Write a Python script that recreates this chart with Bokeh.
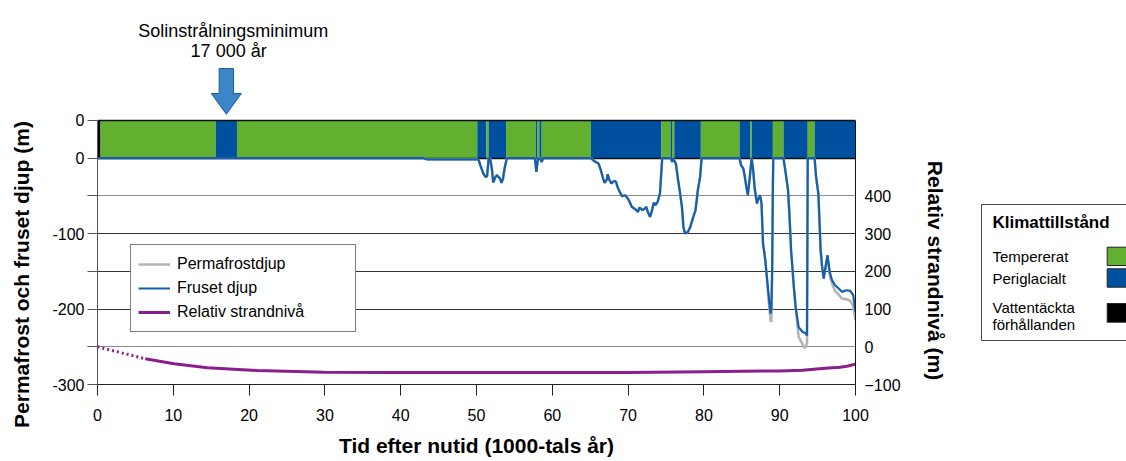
import numpy as np
from bokeh.plotting import figure
from bokeh.models import Range1d, LinearAxis, FixedTicker, Label, Legend, LegendItem
from bokeh.layouts import row
from bokeh.embed import file_html
from bokeh.resources import INLINE

FONT = "Liberation Sans"

# ---------------- data ----------------
# Climate state bar (time in 1000 years after present)
bar_start = [0.0, 0.4, 15.6, 18.4, 50.1, 51.3, 51.6, 53.9, 57.8, 58.0, 58.3, 58.6, 65.1,
             74.4, 75.6, 75.8, 76.1, 79.6, 84.7, 86.1, 86.3, 89.1, 90.5, 93.7, 94.6]
bar_end = bar_start[1:] + [100.0]
bar_state = ["Vattentäckta förhållanden"] + ["Tempererat", "Periglacialt"] * 12

state_names = ["Tempererat", "Periglacialt", "Vattentäckta förhållanden"]
state_colors = {"Tempererat": "#62b030", "Periglacialt": "#0050a0",
                "Vattentäckta förhållanden": "#000000"}

# Frozen depth / permafrost depth (m)
frost_t = [0, 43, 43.5, 50.1, 50.3, 50.5, 50.9, 51.2, 51.4, 51.6, 51.8, 52.05, 52.2, 52.5, 52.7,
           53.1, 53.3, 53.5, 53.7, 54.0,
           57.7, 57.9, 58.1, 58.4, 58.6, 58.8,
           65.1, 65.4, 65.7, 66.1, 66.4, 66.7, 66.9, 67.2, 67.3, 67.5, 67.8, 68.0, 68.2, 68.4,
           68.6, 68.9, 69.2, 69.6, 69.8, 70.1, 70.5, 71.0, 71.3, 71.5, 71.9, 72.2, 72.4, 72.6,
           72.9, 73.1, 73.4, 73.6, 73.9, 74.2, 74.4, 74.5,
           75.7, 75.8, 75.9, 76.3, 76.6, 76.8, 77.1, 77.3, 77.5, 77.9, 78.2, 78.6, 78.9, 79.2,
           79.5, 79.7,
           84.7, 84.9, 85.2, 85.4, 85.6, 85.8, 86.1, 86.3, 86.5, 86.7, 87.0, 87.1, 87.4, 87.6,
           87.8, 88.1, 88.6, 88.8, 88.9, 89.0, 89.1, 89.15,
           90.5, 90.8, 91.1, 91.3, 91.5, 91.6, 91.9, 92.1, 92.5, 93.0, 93.2, 93.4, 93.6, 93.65, 93.7,
           94.6, 94.8, 95.1, 95.4, 95.6, 95.8, 96.3, 96.6, 96.9, 97.3, 97.8, 98.2, 98.8, 99.3,
           99.7, 100]
frost_depth = [0, 0, -1.5, -1.5, -2.7, -9.3, -20.3, -24.8, -23.9, 0, 0, -15.9, -32.2, -24.8, -22.5,
               -26.9, -32.7, -26.9, -13.7, 0,
               0, -18.1, 0, -1, -4.9, 0,
               0, -2.7, -4.9, -7.0, -15.9, -26.9, -32.7, -28.2, -21.2, -28.2, -33.5, -31.4, -30.1, -31.4,
               -38.0, -44.7, -50.4, -49.1, -51.3, -55.7, -64.6, -68.0, -71.2, -65.4, -68.9, -66.7, -64.6, -71.2,
               -77.8, -71.2, -58.7, -62.3, -57.9, -46.8, -15.9, 0,
               0, -4.9, 0, -7.0, -29.2, -42.4, -64.6, -91.1, -99.8, -97.7, -91.1, -77.8, -68.9, -42.4,
               -24.8, 0,
               0, -9.3, -13.7, -24.8, -38.0, -49.1, -20.3, 0, -15.9, -40.2, -60.1, -55.7, -49.1, -60.1,
               -113, -135, -188, -206, -200, -150, -40, 0,
               0, -20.3, -42.4, -77.8, -122, -135, -175, -197, -224, -230, -231, -232, -235, -120, 0,
               0, -24.8, -46.8, -122, -144, -159.5, -128.6, -150.7, -161.7, -168.4, -172.8, -177.2, -175, -175.9,
               -181.6, -203.8]
perma_depth = [0, 0, -1.5, -1.5, -2.7, -9.3, -20.3, -24.8, -23.9, 0, 0, -15.9, -32.2, -24.8, -22.5,
               -26.9, -32.7, -26.9, -13.7, 0,
               0, -18.1, 0, -1, -4.9, 0,
               0, -2.7, -4.9, -7.0, -15.9, -26.9, -32.7, -28.2, -21.2, -28.2, -33.5, -31.4, -30.1, -31.4,
               -38.0, -44.7, -50.4, -49.1, -51.3, -55.7, -64.6, -68.0, -71.2, -65.4, -68.9, -66.7, -64.6, -71.2,
               -77.8, -71.2, -58.7, -62.3, -57.9, -46.8, -15.9, 0,
               0, -4.9, 0, -7.0, -29.2, -42.4, -64.6, -91.1, -99.8, -97.7, -91.1, -77.8, -68.9, -42.4,
               -24.8, 0,
               0, -9.3, -13.7, -24.8, -38.0, -49.1, -20.3, 0, -15.9, -40.2, -60.1, -55.7, -49.1, -60.1,
               -113, -135, -195, -215, -217, -160, -40, 0,
               0, -20.3, -42.4, -77.8, -122, -135, -175, -197, -237, -246, -251, -251, -245, -125, 0,
               0, -24.8, -46.8, -122, -144, -159.5, -130, -155, -166, -176, -181, -186, -187, -189,
               -196, -215]

# Relative shore level (m, right axis)
shore_t = [0, 3.3, 6.3, 10.1, 14.5, 21.1, 29.9, 38.7, 50, 60, 70, 80, 85, 90, 93, 96, 98, 99, 100]
shore_level = [0, -16.7, -31.6, -45, -55.6, -62.8, -67.3, -68, -68, -68, -68, -66, -65, -64, -62,
               -57, -54, -51, -46]
shore_dotted_n = 3  # first points (uncertain part) drawn dotted

insolation_min_t = 17  # 1000 years

x_ticks = list(range(0, 101, 10))
left_ticks = [-300, -250, -200, -150, -100, -50, 0, 50]
left_labels = {50: "0", 0: "0", -50: "", -100: "-100", -150: "", -200: "-200", -250: "", -300: "-300"}
right_ticks = [-100, 0, 100, 200, 300, 400]

H = 461

# ---------------- left title figure ----------------
pL = figure(width=40, height=H, x_range=Range1d(0, 40), y_range=Range1d(H, 0),
            output_backend="svg", toolbar_location=None, min_border=0, frame_align=False,
            x_axis_type=None, y_axis_type=None, outline_line_color=None,
            background_fill_color="white", border_fill_color="white")
pL.grid.visible = False
pL.add_layout(Label(x=21, y=274, text="Permafrost och fruset djup (m)", angle=np.pi / 2,
                    text_align="center", text_baseline="middle", text_font=FONT,
                    text_font_size="21px", text_font_style="bold", text_color="black"))

# ---------------- main figure ----------------
p = figure(width=880, height=H, x_range=Range1d(0, 100), y_range=Range1d(-300, 209.09),
           output_backend="svg", toolbar_location=None, frame_align=False,
           min_border_left=57, min_border_right=65, min_border_top=0, min_border_bottom=77,
           outline_line_color=None, background_fill_color="white", border_fill_color="white")
p.xgrid.visible = False
p.ygrid.visible = False
p.extra_y_ranges = {"r": Range1d(-100, 918.18)}

# grid lines
p.hspan(y=[-50, -250], line_color="#8c8c8c", line_width=1.2)
p.hspan(y=[-100, -150, -200], line_color="#333333", line_width=1.2)

# climate bar
p.quad(left=bar_start, right=bar_end, bottom=0, top=50,
       fill_color=[state_colors[s] for s in bar_state], line_color=None)
p.hspan(y=[0], line_color="#111111", line_width=1.5)
p.hspan(y=[50], line_color="#111111", line_width=1.5)

# depth curves
r_perma = p.line(frost_t, perma_depth, line_color="#b4b4b4", line_width=2.6)
r_frost = p.line(frost_t, frost_depth, line_color="#1560aa", line_width=2.2)

# shore level
purple = "#8a1e8c"
p.line(shore_t[:shore_dotted_n], shore_level[:shore_dotted_n], y_range_name="r",
       line_color=purple, line_width=3, line_dash="2 3")
r_shore = p.line(shore_t[shore_dotted_n - 1:], shore_level[shore_dotted_n - 1:], y_range_name="r",
                 line_color=purple, line_width=3)

# arrow marking insolation minimum
ax = insolation_min_t
p.patch(x=[ax - 0.95, ax + 0.95, ax + 0.95, ax + 1.98, ax, ax - 1.98, ax - 0.95],
        y=[118.9, 118.9, 85.8, 85.8, 58.3, 85.8, 85.8],
        fill_color="#3a86c8", line_color="#1f5d93", line_width=1)
p.add_layout(Label(x=17.9, y=169.3, text="Solinstrålningsminimum", text_align="center",
                   text_baseline="middle", text_font=FONT, text_font_size="18px", text_color="black"))
p.add_layout(Label(x=17.3, y=141.5, text="17 000 år", text_align="center",
                   text_baseline="middle", text_font=FONT, text_font_size="18px", text_color="black"))

# axes
xa = p.xaxis[0]
xa.ticker = FixedTicker(ticks=x_ticks)
xa.major_tick_out = 11
xa.major_tick_in = 0
xa.minor_tick_line_color = None
xa.axis_line_color = "#222222"
xa.major_tick_line_color = "#222222"
xa.major_label_standoff = 13
xa.major_label_text_font = FONT
xa.major_label_text_font_size = "16px"
xa.major_label_text_color = "black"
xa.axis_label = "Tid efter nutid (1000-tals år)"
xa.axis_label_text_font = FONT
xa.axis_label_text_font_size = "21px"
xa.axis_label_text_font_style = "bold"
xa.axis_label_text_color = "black"
xa.axis_label_standoff = 10

ya = p.yaxis[0]
ya.ticker = FixedTicker(ticks=left_ticks)
ya.major_label_overrides = left_labels
ya.bounds = (-300, 50)
ya.major_tick_out = 10
ya.major_tick_in = 0
ya.minor_tick_line_color = None
ya.axis_line_color = "#555555"
ya.major_tick_line_color = "#555555"
ya.major_label_standoff = 3
ya.major_label_text_font = FONT
ya.major_label_text_font_size = "16px"
ya.major_label_text_color = "black"

ra = LinearAxis(y_range_name="r", ticker=FixedTicker(ticks=right_ticks), bounds=(-100, 600),
                major_tick_out=0, major_tick_in=0, minor_tick_line_color=None,
                axis_line_color="#111111", major_label_standoff=9,
                major_label_text_font=FONT, major_label_text_font_size="16px",
                major_label_text_color="black")
p.add_layout(ra, "right")

legend = Legend(items=[LegendItem(label="Permafrostdjup", renderers=[r_perma]),
                       LegendItem(label="Fruset djup", renderers=[r_frost]),
                       LegendItem(label="Relativ strandnivå", renderers=[r_shore])],
                location=(33, 52), margin=0, padding=7, spacing=0,
                glyph_width=32, glyph_height=24, label_height=24, label_width=171,
                label_standoff=7, label_text_font=FONT, label_text_font_size="16px",
                label_text_color="black", border_line_color="black", border_line_width=1,
                background_fill_color="white", background_fill_alpha=1.0)
p.add_layout(legend)

# ---------------- right title + climate legend figure ----------------
pR = figure(width=206, height=H, x_range=Range1d(0, 206), y_range=Range1d(H, 0),
            output_backend="svg", toolbar_location=None, min_border=0, frame_align=False,
            x_axis_type=None, y_axis_type=None, outline_line_color=None,
            background_fill_color="white", border_fill_color="white")
pR.grid.visible = False
pR.add_layout(Label(x=15, y=270, text="Relativ strandnivå (m)", angle=-np.pi / 2,
                    text_align="center", text_baseline="middle", text_font=FONT,
                    text_font_size="21px", text_font_style="bold", text_color="black"))
pR.quad(left=61, right=230, top=204, bottom=340, fill_color="white", line_color="#444444", line_width=1)
pR.add_layout(Label(x=72, y=222, text="Klimattillstånd", text_baseline="middle", text_font=FONT,
                    text_font_size="17px", text_font_style="bold", text_color="black"))
for txt, yy in zip(["Tempererat", "Periglacialt", "Vattentäckta", "förhållanden"], [256, 278, 307, 324]):
    pR.add_layout(Label(x=72, y=yy, text=txt, text_baseline="middle", text_font=FONT,
                        text_font_size="15px", text_color="black"))
pR.quad(left=186.7, right=206.7, top=[246.7, 268.3, 303.0], bottom=[265.0, 286.7, 321.7],
        fill_color=[state_colors[s] for s in state_names], line_color="#222222", line_width=1)

layout = row(pL, p, pR)
open("out.html", "w").write(file_html(layout, INLINE))
